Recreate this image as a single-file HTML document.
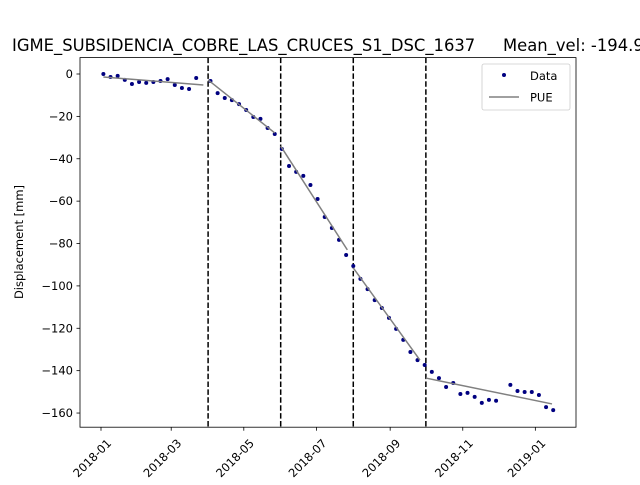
<!DOCTYPE html>
<html><head><meta charset="utf-8"><style>
body{margin:0;background:#fff;overflow:hidden;}
svg text{font-family:"DejaVu Sans","Liberation Sans",sans-serif;fill:#000;}
</style></head><body>
<svg id="chart" width="640" height="480" xmlns="http://www.w3.org/2000/svg">
<rect width="640" height="480" fill="#fff"/>
<text y="51" font-size="16.4"><tspan x="12">IGME_SUBSIDENCIA_COBRE_LAS_CRUCES_S1_DSC_1637</tspan><tspan x="503">Mean_vel: -194.9</tspan></text>
<g id="grid"></g>
<g id="marks"></g>
<rect x="80" y="57.6" width="496" height="369.6" fill="none" stroke="#000" stroke-width="0.8"/>
<text transform="translate(23,242) rotate(-90)" font-size="11.5" text-anchor="middle">Displacement [mm]</text>
<g>
<rect x="482" y="64" width="88" height="46" rx="2" fill="#fff" stroke="#ccc" stroke-width="0.8"/>
<circle cx="504" cy="75" r="2" fill="#000080"/>
<text x="530" y="80" font-size="11.5">Data</text>
<line x1="489" y1="97" x2="519" y2="97" stroke="#808080" stroke-width="1.5"/>
<text x="530" y="101.5" font-size="11.5">PUE</text>
</g>
</svg>
<script>
const startDate = "2018-01-03";
const stepIdx = [0,1,2,3,4,5,6,7,8,9,10,11,12,13,15,16,17,18,19,20,21,22,23,24,25,26,27,28,29,30,31,32,33,34,35,36,37,38,39,40,41,42,43,44,45,46,47,48,49,50,51,52,53,54,55,57,58,59,60,61,62,63];
const dispValues = [0,-1.4,-0.9,-2.8,-4.7,-3.8,-4.2,-3.8,-3.3,-2.4,-5.2,-6.6,-7.1,-1.9,-3.3,-9,-11.3,-12.3,-14.2,-17,-20.3,-21.2,-25.5,-28.3,-35.4,-43.4,-46.2,-48.1,-52.4,-59,-67.5,-72.7,-78.3,-85.4,-90.6,-96.7,-101.5,-106.7,-110.4,-115.1,-120.3,-125.5,-131.2,-135,-137.3,-140.6,-143.5,-147.7,-145.8,-151,-150.5,-152.4,-155.2,-153.8,-154.2,-146.7,-149.6,-150.1,-150.1,-151.5,-157.2,-158.6];
const pueStartDates = ["2018-01-03","2018-04-01","2018-06-01","2018-08-01","2018-10-01"];
const pueEndDates = ["2018-03-28","2018-05-27","2018-07-27","2018-09-26","2019-01-15"];
const pueStartVals = [-1.4,-2.8,-34,-91.5,-143.5];
const pueEndVals = [-5.2,-27.8,-83,-135,-155.7];
const breakDates = ["2018-04-01","2018-06-01","2018-08-01","2018-10-01"];
const xTickLabels = ["2018-01","2018-03","2018-05","2018-07","2018-09","2018-11","2019-01"];
const yTicks = [0,-20,-40,-60,-80,-100,-120,-140,-160];

const NS="http://www.w3.org/2000/svg";
const t0=Date.UTC(2018,0,1);
function dayOf(s){const p=s.split("-").map(Number);return (Date.UTC(p[0],p[1]-1,p[2]||1)-t0)/86400000;}
function xs(d){return 101+d*1.19;}
function ys(v){return 74-v*2.119;}
const grid=document.getElementById("grid"), marks=document.getElementById("marks");
function mk(tag,attrs,parent){const e=document.createElementNS(NS,tag);for(const k in attrs)e.setAttribute(k,attrs[k]);parent.appendChild(e);return e;}
yTicks.forEach(v=>{
  const y=ys(v);
  const l=mk("line",{x1:76.5,x2:80,y1:y,y2:y,stroke:"#000","stroke-width":0.8},grid);
  
  
  const t=mk("text",{x:73,y:y+4,"font-size":11.5,"text-anchor":"end"},grid);
  t.textContent=String(v).replace("-","\u2212");
  
  
});
xTickLabels.forEach(s=>{
  const x=xs(dayOf(s));
  const l=mk("line",{x1:x,x2:x,y1:427.2,y2:430.7,stroke:"#000","stroke-width":0.8},grid);
  
  
  const t=mk("text",{x:0,y:0,"font-size":11.5,"text-anchor":"end",transform:`translate(${x+11},${444}) rotate(-45)`},grid);
  t.textContent=s;
  
  
});
breakDates.forEach(s=>{
  const x=xs(dayOf(s));
  const l=mk("line",{x1:x,x2:x,y1:57.6,y2:427.2,stroke:"#000","stroke-width":1.5,"stroke-dasharray":"5.5,2.4"},marks);
  
  
});
const s0=dayOf(startDate);
stepIdx.forEach((k,i)=>{
  const c=mk("circle",{cx:xs(s0+6*k),cy:ys(dispValues[i]),r:2,fill:"#000080"},marks);
  
  
});
pueStartDates.forEach((s,i)=>{
  const l=mk("line",{x1:xs(dayOf(s)),y1:ys(pueStartVals[i]),x2:xs(dayOf(pueEndDates[i])),y2:ys(pueEndVals[i]),stroke:"#808080","stroke-width":1.5},marks);
  
  
});
</script>
</body></html>
